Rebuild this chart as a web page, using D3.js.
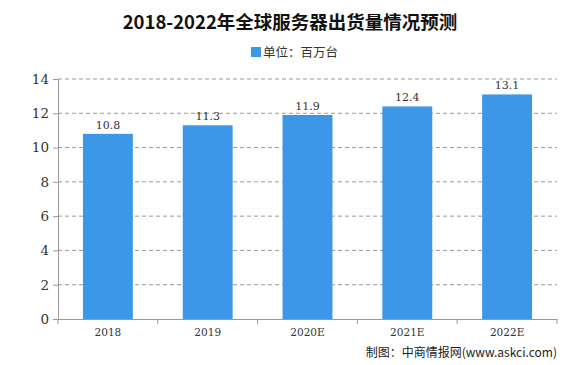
<!DOCTYPE html>
<html><head><meta charset="utf-8">
<script src="https://cdn.jsdelivr.net/npm/d3@7"></script>
<style>body{margin:0;background:#fff}svg{display:block}</style>
</head><body>
<svg id="c" width="582" height="365"></svg>
<script>
const categories = ["2018","2019","2020E","2021E","2022E"];
const values = [10.8, 11.3, 11.9, 12.4, 13.1];
const yTicks = [0,2,4,6,8,10,12,14];
const title = "2018-2022年全球服务器出货量情况预测";
const legendLabel = "单位：百万台";
const source = "制图：中商情报网(www.askci.com)";

const svg = d3.select("#c");
const m = {l:58, r:25, t:79, b:46};
const W = 582, H = 365;
const x = d3.scaleBand().domain(categories).range([m.l, W-m.r]).paddingInner(0.5).paddingOuter(0.25);
const y = d3.scaleLinear().domain([0,14]).range([H-m.b, m.t]);
const color = "#3d97e8";

// title
svg.append("text").attr("x", 290).attr("y", 29).attr("text-anchor","middle")
  .attr("font-family","'Noto Sans CJK SC', sans-serif").attr("font-weight","bold").attr("font-size",18.5).attr("fill","#111").text(title);
// legend
svg.append("rect").attr("x",251).attr("y",47).attr("width",10).attr("height",10).attr("fill",color);
svg.append("text").attr("x",263).attr("y",56.5).attr("font-family","'Noto Sans CJK SC', sans-serif").attr("font-size",12.5).attr("fill","#333").text(legendLabel);

// grid
svg.append("g").selectAll("line").data(yTicks.filter(d=>d>0)).join("line")
  .attr("x1",m.l).attr("x2",W-m.r).attr("y1",d=>y(d)).attr("y2",d=>y(d))
  .attr("stroke","#999").attr("stroke-dasharray","4,3").attr("stroke-width",1);

// y axis
const ya = svg.append("g").attr("transform",`translate(${m.l},0)`)
  .call(d3.axisLeft(y).tickValues(yTicks).tickSize(5).tickPadding(4));
ya.select(".domain").attr("stroke","#999");
ya.selectAll(".tick line").attr("stroke","#999");
ya.selectAll("text").attr("font-family","'DejaVu Serif', serif").attr("font-size",13.5).attr("fill","#333");

// bars
svg.append("g").selectAll("rect").data(values).join("rect")
  .attr("x",(d,i)=>x(categories[i])).attr("width",x.bandwidth())
  .attr("y",d=>y(d)).attr("height",d=>y(0)-y(d)).attr("fill",color);
svg.append("g").selectAll("text").data(values).join("text")
  .attr("x",(d,i)=>x(categories[i])+x.bandwidth()/2).attr("y",d=>y(d)-5)
  .attr("text-anchor","middle").attr("font-family","'DejaVu Serif', serif").attr("font-size",11).attr("fill","#333")
  .text(d=>d.toFixed(1));

// x axis
const step = x.step();
const xa = svg.append("g").attr("transform",`translate(0,${y(0)})`)
  .call(d3.axisBottom(x).tickSize(0).tickPadding(10));
xa.select(".domain").attr("stroke","#999");
xa.selectAll("text").attr("font-family","'DejaVu Serif', serif").attr("font-size",10.5).attr("fill","#333");
const bounds = categories.map(c=>x(c)+x.bandwidth()/2-step/2).concat([W-m.r]);
svg.append("g").selectAll("line").data(bounds).join("line")
  .attr("x1",d=>d).attr("x2",d=>d).attr("y1",y(0)).attr("y2",y(0)+5).attr("stroke","#999");

// source
svg.append("text").attr("x",557).attr("y",357).attr("text-anchor","end")
  .attr("font-family","'Noto Sans CJK SC', sans-serif").attr("font-size",12).attr("fill","#222").text(source);
</script>
</body></html>
